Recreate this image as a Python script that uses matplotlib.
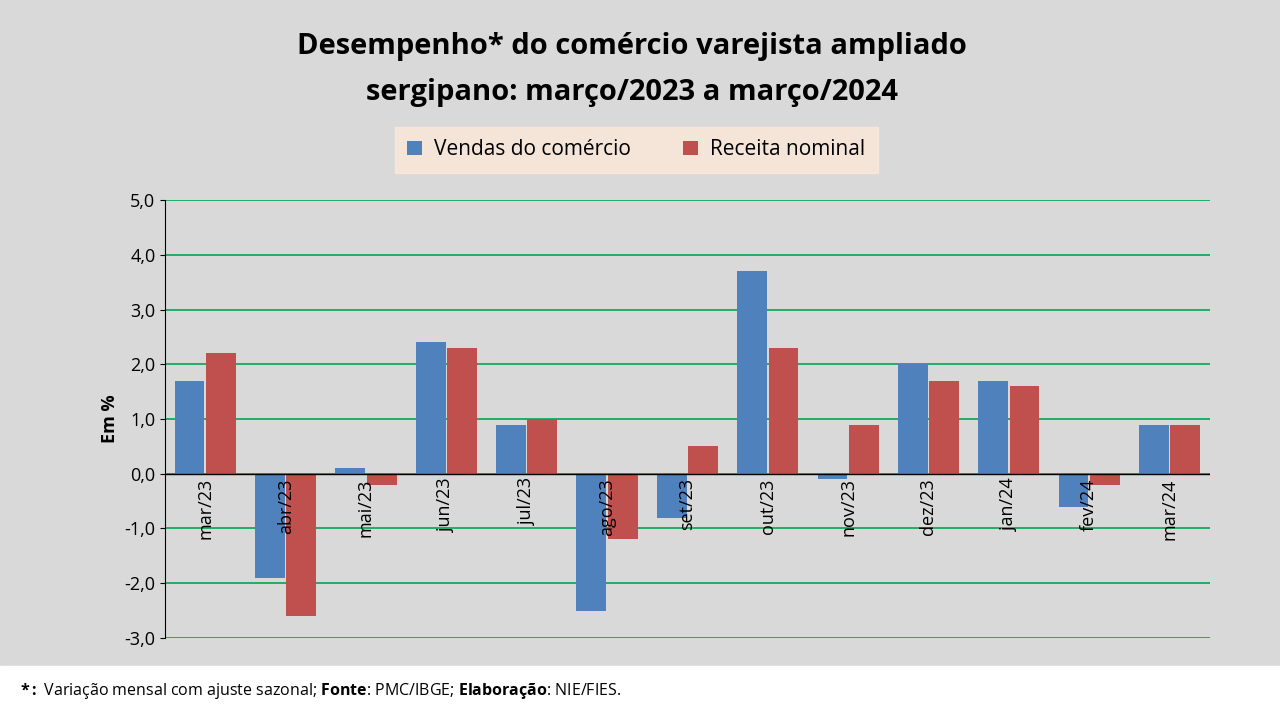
import numpy as np
import matplotlib.pyplot as plt

plt.rcParams['font.family'] = ['Open Sans', 'DejaVu Sans']
plt.rcParams['mathtext.fontset'] = 'custom'
plt.rcParams['mathtext.rm'] = 'Open Sans'
plt.rcParams['mathtext.bf'] = 'Open Sans:bold'

meses = ['mar/23', 'abr/23', 'mai/23', 'jun/23', 'jul/23', 'ago/23', 'set/23',
         'out/23', 'nov/23', 'dez/23', 'jan/24', 'fev/24', 'mar/24']
vendas = [1.7, -1.9, 0.1, 2.4, 0.9, -2.5, -0.8, 3.7, -0.1, 2.0, 1.7, -0.6, 0.9]
receita = [2.2, -2.6, -0.2, 2.3, 1.0, -1.2, 0.5, 2.3, 0.9, 1.7, 1.6, -0.2, 0.9]

bg = '#d9d9d9'
fig = plt.figure(figsize=(12.8, 7.2), dpi=100, facecolor=bg)
ax = fig.add_axes([0.129, 0.114, 0.816, 0.608], facecolor=bg)

x = np.arange(len(meses))
w = 0.37
ax.bar(x - w/2 - 0.01, vendas, w, color='#4f81bd', label='Vendas do comércio', zorder=3)
ax.bar(x + w/2 + 0.01, receita, w, color='#c0504d', label='Receita nominal', zorder=3)

ax.set_xlim(-0.5, len(meses) - 0.5)
ax.set_ylim(-3, 5)
ax.set_yticks(np.arange(-3, 5.1, 1))
ax.set_yticklabels([f'{v:.1f}'.replace('.', ',') for v in np.arange(-3, 5.1, 1)], fontsize=13)
ax.grid(axis='y', color='#00a651', lw=1.2, zorder=0)
ax.axhline(0, color='black', lw=1, zorder=4)
for s in ['top', 'right', 'bottom']:
    ax.spines[s].set_visible(False)
ax.spines['left'].set_color('black')
ax.set_xticks([])
for i, m in enumerate(meses):
    ax.text(i, -0.08, m, rotation=90, ha='center', va='top', fontsize=13, zorder=5)
ax.set_ylabel('Em %', fontsize=13, fontweight='bold')

fig.text(0.494, 0.935, 'Desempenho* do comércio varejista ampliado', ha='center', va='center',
         fontsize=21, fontweight='bold')
fig.text(0.494, 0.872, 'sergipano: março/2023 a março/2024', ha='center', va='center',
         fontsize=21, fontweight='bold')

leg = fig.legend(loc='center', bbox_to_anchor=(0.497, 0.792), ncol=2, fontsize=15,
                 frameon=True, fancybox=False, handlelength=0.7, handleheight=0.7,
                 columnspacing=2.5, borderpad=0.6, borderaxespad=0, handletextpad=0.6)
leg.get_frame().set_facecolor('#fde9d9')
leg.get_frame().set_edgecolor('#fde9d9')

fig.text(0.016, 0.04, r'$\bf{*:}$ Variação mensal com ajuste sazonal; $\bf{Fonte}$: PMC/IBGE; '
         r'$\bf{Elaboração}$: NIE/FIES.', fontsize=11.5, va='center')
fig.patches.append(plt.Rectangle((0, 0), 1, 0.075, transform=fig.transFigure, color='white', zorder=-1))

fig.savefig('out.png', dpi=100, facecolor=bg)
